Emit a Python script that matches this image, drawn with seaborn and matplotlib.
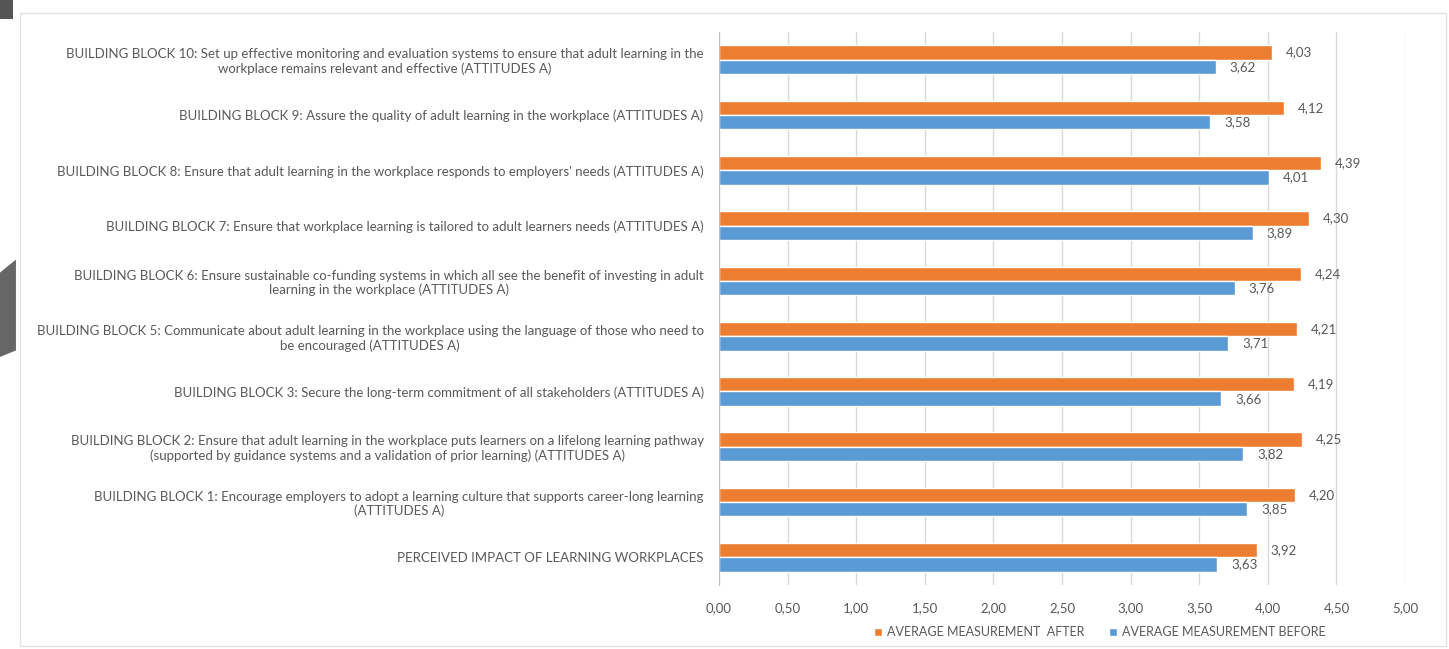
import numpy as np
import pandas as pd
import matplotlib
matplotlib.use("Agg")
import matplotlib.pyplot as plt
import seaborn as sns
from matplotlib.patches import Rectangle, Polygon

# categories, top to bottom
categories = [
    "BUILDING BLOCK 10: Set up effective monitoring and evaluation systems to ensure that adult learning in the\nworkplace remains relevant and effective (ATTITUDES A)",
    "BUILDING BLOCK 9: Assure the quality of adult learning in the workplace (ATTITUDES A)",
    "BUILDING BLOCK 8: Ensure that adult learning in the workplace responds to employers' needs (ATTITUDES A)",
    "BUILDING BLOCK 7: Ensure that workplace learning is tailored to adult learners needs (ATTITUDES A)",
    "BUILDING BLOCK 6: Ensure sustainable co-funding systems in which all see the benefit of investing in adult\nlearning in the workplace (ATTITUDES A)",
    "BUILDING BLOCK 5: Communicate about adult learning in the workplace using the language of those who need to\nbe encouraged (ATTITUDES A)",
    "BUILDING BLOCK 3: Secure the long-term commitment of all stakeholders (ATTITUDES A)",
    "BUILDING BLOCK 2: Ensure that adult learning in the workplace puts learners on a lifelong learning pathway\n(supported by guidance systems and a validation of prior learning) (ATTITUDES A)",
    "BUILDING BLOCK 1: Encourage employers to adopt a learning culture that supports career-long learning\n(ATTITUDES A)",
    "PERCEIVED IMPACT OF LEARNING WORKPLACES",
]
after = [4.03, 4.12, 4.39, 4.30, 4.24, 4.21, 4.19, 4.25, 4.20, 3.92]
before = [3.62, 3.58, 4.01, 3.89, 3.76, 3.71, 3.66, 3.82, 3.85, 3.63]
series = ["AVERAGE MEASUREMENT  AFTER", "AVERAGE MEASUREMENT BEFORE"]
xticks = np.arange(0, 5.01, 0.5)

df = pd.DataFrame({
    "cat": categories * 2,
    "value": after + before,
    "series": [series[0]] * len(after) + [series[1]] * len(before),
})

sns.set_style("white")
plt.rcParams["font.family"] = ["Lato", "DejaVu Sans"]
txt = "#595959"

fig = plt.figure(figsize=(14.49, 6.49), dpi=100)
ax = fig.add_axes([0.4962, 0.0986, 0.4735, 0.852])

sns.barplot(data=df, y="cat", x="value", hue="series", order=categories,
            hue_order=series, palette=["#ED7D31", "#5B9BD5"], width=0.52,
            saturation=1, orient="h", ax=ax, legend=True)

# value labels
for cont in ax.containers:
    ax.bar_label(cont, labels=[f"{v:.2f}".replace(".", ",") for v in cont.datavalues],
                 padding=10, fontsize=9.5, color=txt)

ax.set_xlim(0, 5)
ax.set_ylim(9.5, -0.5)
ax.set_xticks(xticks)
ax.set_xticklabels([f"{t:.2f}".replace(".", ",") for t in xticks], fontsize=9.5, color=txt)
ax.tick_params(axis="x", pad=12, length=0)
ax.tick_params(axis="y", length=0, pad=11)
for lbl in ax.get_yticklabels():
    lbl.set_fontsize(9.5)
    lbl.set_color(txt)
    lbl.set_multialignment("center")
ax.set_xlabel("")
ax.set_ylabel("")
ax.grid(axis="x", color="#d9d9d9", linewidth=1)
ax.set_axisbelow(True)
for s in ["top", "right", "bottom"]:
    ax.spines[s].set_visible(False)
ax.spines["left"].set_color("#bfbfbf")

leg = ax.legend(loc="center", bbox_to_anchor=(0.759, 0.026), bbox_transform=fig.transFigure,
                ncol=2, frameon=False, fontsize=9, handlelength=0.6, handleheight=0.6,
                columnspacing=2.0, handletextpad=0.4)
for t in leg.get_texts():
    t.set_color(txt)

# slide frame and decorations
fig.patches.append(Rectangle((0.014, 0.005), 0.984, 0.975, transform=fig.transFigure,
                             fill=False, edgecolor="#e3e3e3", linewidth=1))
fig.patches.append(Polygon([[0, 1], [0.009, 1], [0.009, 0.97], [0, 0.97]], closed=True,
                           transform=fig.transFigure, facecolor="#555555", edgecolor="none"))
fig.patches.append(Polygon([[0, 0.58], [0.011, 0.6], [0.011, 0.46], [0, 0.45]], closed=True,
                           transform=fig.transFigure, facecolor="#666666", edgecolor="none"))

fig.savefig("out.png", dpi=100, facecolor="white")
